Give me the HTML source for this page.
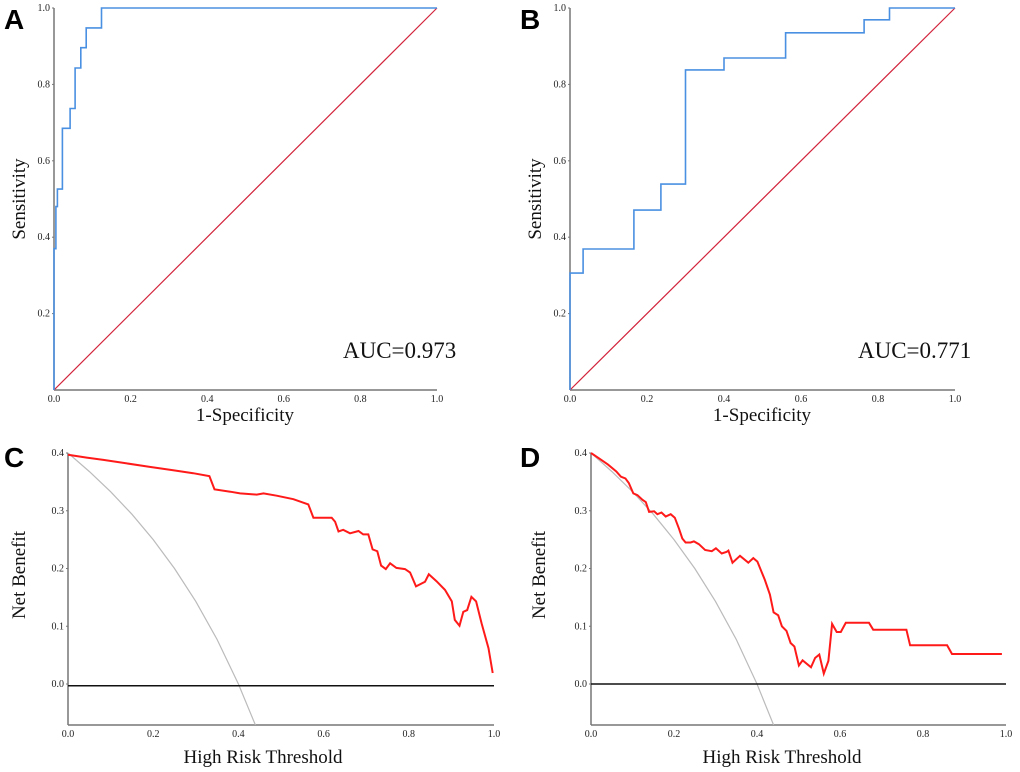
<!DOCTYPE html>
<html><head><meta charset="utf-8">
<style>
html,body{margin:0;padding:0;background:#fff;}
svg{display:block;}
.tick{font-family:"Liberation Serif",serif;font-size:10px;fill:#222;}
.title{font-family:"Liberation Serif",serif;font-size:19px;fill:#111;}
.auc{font-family:"Liberation Serif",serif;font-size:23px;fill:#111;}
.letter{font-family:"Liberation Sans",sans-serif;font-size:28px;font-weight:bold;fill:#000;}
</style></head>
<body>
<svg id="fig" width="1020" height="772" viewBox="0 0 1020 772">
<text class="letter" x="4" y="29">A</text>
<text class="letter" x="520" y="29">B</text>
<text class="letter" x="4" y="467">C</text>
<text class="letter" x="520" y="467">D</text>
</svg>
<script>
const rocTicks = ["0.0","0.2","0.4","0.6","0.8","1.0"];
const rocTickVals = [0,0.2,0.4,0.6,0.8,1.0];
const nbTicksX = ["0.0","0.2","0.4","0.6","0.8","1.0"];
const nbTickValsX = [0,0.2,0.4,0.6,0.8,1.0];
const nbTicksY = ["0.0","0.1","0.2","0.3","0.4"];
const nbTickValsY = [0,0.1,0.2,0.3,0.4];

const rocA_fpr = [0,0,0.005,0.005,0.009,0.009,0.022,0.022,0.022,0.042,0.042,0.055,0.055,0.07,0.07,0.084,0.084,0.124,0.124,1];
const rocA_tpr = [0,0.37,0.37,0.48,0.48,0.526,0.526,0.631,0.685,0.685,0.737,0.737,0.843,0.843,0.896,0.896,0.948,0.948,1,1];
const rocB_fpr = [0,0,0.034,0.034,0.166,0.166,0.236,0.236,0.30,0.30,0.40,0.40,0.56,0.56,0.764,0.764,0.83,0.83,1];
const rocB_tpr = [0,0.306,0.306,0.369,0.369,0.471,0.471,0.539,0.539,0.838,0.838,0.869,0.869,0.935,0.935,0.969,0.969,1,1];
const aucA = "AUC=0.973";
const aucB = "AUC=0.771";

const nbC_t = [0,0.044,0.083,0.138,0.192,0.247,0.294,0.332,0.344,0.381,0.404,0.443,0.459,0.49,0.529,0.564,0.576,0.619,0.627,0.635,0.646,0.662,0.682,0.693,0.705,0.715,0.726,0.735,0.746,0.756,0.771,0.791,0.803,0.817,0.838,0.847,0.865,0.885,0.901,0.908,0.919,0.928,0.937,0.947,0.958,0.971,0.987,0.997];
const nbC_v = [0.397,0.392,0.388,0.382,0.376,0.37,0.365,0.36,0.337,0.333,0.33,0.328,0.33,0.326,0.32,0.311,0.288,0.288,0.281,0.264,0.267,0.261,0.265,0.259,0.259,0.233,0.23,0.205,0.199,0.209,0.201,0.199,0.193,0.169,0.177,0.19,0.178,0.163,0.143,0.111,0.101,0.125,0.128,0.151,0.143,0.105,0.062,0.019];
const nbD_t = [0,0.021,0.041,0.061,0.072,0.083,0.091,0.102,0.112,0.124,0.132,0.14,0.152,0.16,0.17,0.18,0.192,0.202,0.212,0.22,0.228,0.24,0.248,0.26,0.275,0.291,0.301,0.315,0.327,0.331,0.341,0.359,0.379,0.391,0.401,0.419,0.431,0.44,0.451,0.46,0.471,0.481,0.49,0.501,0.51,0.53,0.54,0.55,0.561,0.572,0.581,0.592,0.602,0.614,0.67,0.68,0.76,0.769,0.858,0.87,0.99];
const nbD_v = [0.4,0.39,0.38,0.368,0.359,0.356,0.348,0.33,0.327,0.319,0.315,0.298,0.299,0.294,0.297,0.29,0.294,0.288,0.269,0.252,0.245,0.245,0.247,0.242,0.232,0.23,0.235,0.226,0.229,0.231,0.21,0.222,0.21,0.218,0.212,0.18,0.155,0.124,0.119,0.1,0.092,0.071,0.065,0.032,0.041,0.029,0.045,0.051,0.018,0.04,0.104,0.09,0.09,0.106,0.106,0.094,0.094,0.067,0.067,0.052,0.052];
const treatAll_t = [0,0.05,0.1,0.15,0.2,0.25,0.3,0.35,0.4,0.44];
const treatAll_v = [0.4,0.368,0.333,0.294,0.25,0.2,0.143,0.077,0,-0.071];
const noneC = -0.003, noneD = 0;

const NS="http://www.w3.org/2000/svg";
const svg=document.getElementById('fig');
function mk(tag,attrs,parent){const e=document.createElementNS(NS,tag);for(const k in attrs)e.setAttribute(k,attrs[k]);(parent||svg).appendChild(e);return e;}
function lin(d0,d1,r0,r1){return v=>r0+(v-d0)/(d1-d0)*(r1-r0);}
function pathFrom(xs,ys,sx,sy){return xs.map((x,i)=>(i?'L':'M')+sx(x).toFixed(1)+','+sy(ys[i]).toFixed(1)).join(' ');}

function axes(g,sx,sy,x0,x1,yt,xv,xl,yv,yl,ymin){
  const ax=mk('line',{x1:sx(x0),y1:sy(ymin),x2:sx(x1),y2:sy(ymin),stroke:'#777','stroke-width':1.5},g);
  
  const ay=mk('line',{x1:sx(x0),y1:sy(ymin),x2:sx(x0),y2:yt,stroke:'#777','stroke-width':1.5},g);
  
  xv.forEach((v,i)=>{const t=mk('text',{x:sx(v),y:sy(ymin)+12,'text-anchor':'middle',class:'tick'},g);t.textContent=xl[i];
    });
  yv.forEach((v,i)=>{const t=mk('text',{x:sx(x0)-4,y:sy(v)+3,'text-anchor':'end',class:'tick'},g);t.textContent=yl[i];
    
    mk('line',{x1:sx(x0)-2,y1:sy(v),x2:sx(x0),y2:sy(v),stroke:'#777'},g);});
}

function roc(name,px0,px1,py0,py1,fpr,tpr,auc,aucX,titleCx,ytX){
  const g=mk('g',{});
  
  const sx=lin(0,1,px0,px1), sy=lin(0,1,py0,py1);
  axes(g,sx,sy,0,1,py1,rocTickVals,rocTicks,rocTickVals.slice(1),rocTicks.slice(1),0);
  const d=mk('line',{x1:sx(0),y1:sy(0),x2:sx(1),y2:sy(1),stroke:'#d2243c','stroke-width':1.2},g);
  
  const p=mk('path',{d:pathFrom(fpr,tpr,sx,sy),fill:'none',stroke:'#4a90e2','stroke-width':1.6},g);
  
  const a=mk('text',{x:aucX,y:358,class:'auc'},g);a.textContent=auc;
  
  const tx=mk('text',{x:titleCx,y:421,'text-anchor':'middle',class:'title'},g);tx.textContent='1-Specificity';
  
  const ty=mk('text',{x:0,y:0,'text-anchor':'middle',class:'title',transform:'translate('+ytX+',199) rotate(-90)'},g);ty.textContent='Sensitivity';
  
}

function dca(name,px0,px1,y0px,y4px,ts,vs,none,ytX,titleCx){
  const g=mk('g',{});
  
  const sx=lin(0,1,px0,px1), sy=lin(0,0.4,y0px,y4px);
  const ymin=-0.071;
  axes(g,sx,sy,0,1,y4px,nbTickValsX,nbTicksX,nbTickValsY,nbTicksY,ymin);
  const cp=mk('clipPath',{id:name+'-clip'},g);mk('rect',{x:px0,y:y4px-10,width:px1-px0+10,height:sy(ymin)-y4px+10},cp);
  const ta=mk('path',{d:pathFrom(treatAll_t,treatAll_v,sx,sy),fill:'none',stroke:'#bbb','stroke-width':1.2,'clip-path':'url(#'+name+'-clip)'},g);
  
  const tn=mk('line',{x1:sx(0),y1:sy(none),x2:sx(1),y2:sy(none),stroke:'#111','stroke-width':1.5},g);
  
  const p=mk('path',{d:pathFrom(ts,vs,sx,sy),fill:'none',stroke:'#ff1a1a','stroke-width':2},g);
  
  const tx=mk('text',{x:titleCx,y:763,'text-anchor':'middle',class:'title'},g);tx.textContent='High Risk Threshold';
  
  const ty=mk('text',{x:0,y:0,'text-anchor':'middle',class:'title',transform:'translate('+ytX+',575) rotate(-90)'},g);ty.textContent='Net Benefit';
  
}

roc('roc-panel-a',54,437,390,8,rocA_fpr,rocA_tpr,aucA,343,245,25);
roc('roc-panel-b',570,955,390,8,rocB_fpr,rocB_tpr,aucB,858,762,541);
dca('dca-panel-c',68,494,684,453,nbC_t,nbC_v,noneC,25,263,);
dca('dca-panel-d',591,1006,684,453,nbD_t,nbD_v,noneD,545,782);
</script>
</body></html>
